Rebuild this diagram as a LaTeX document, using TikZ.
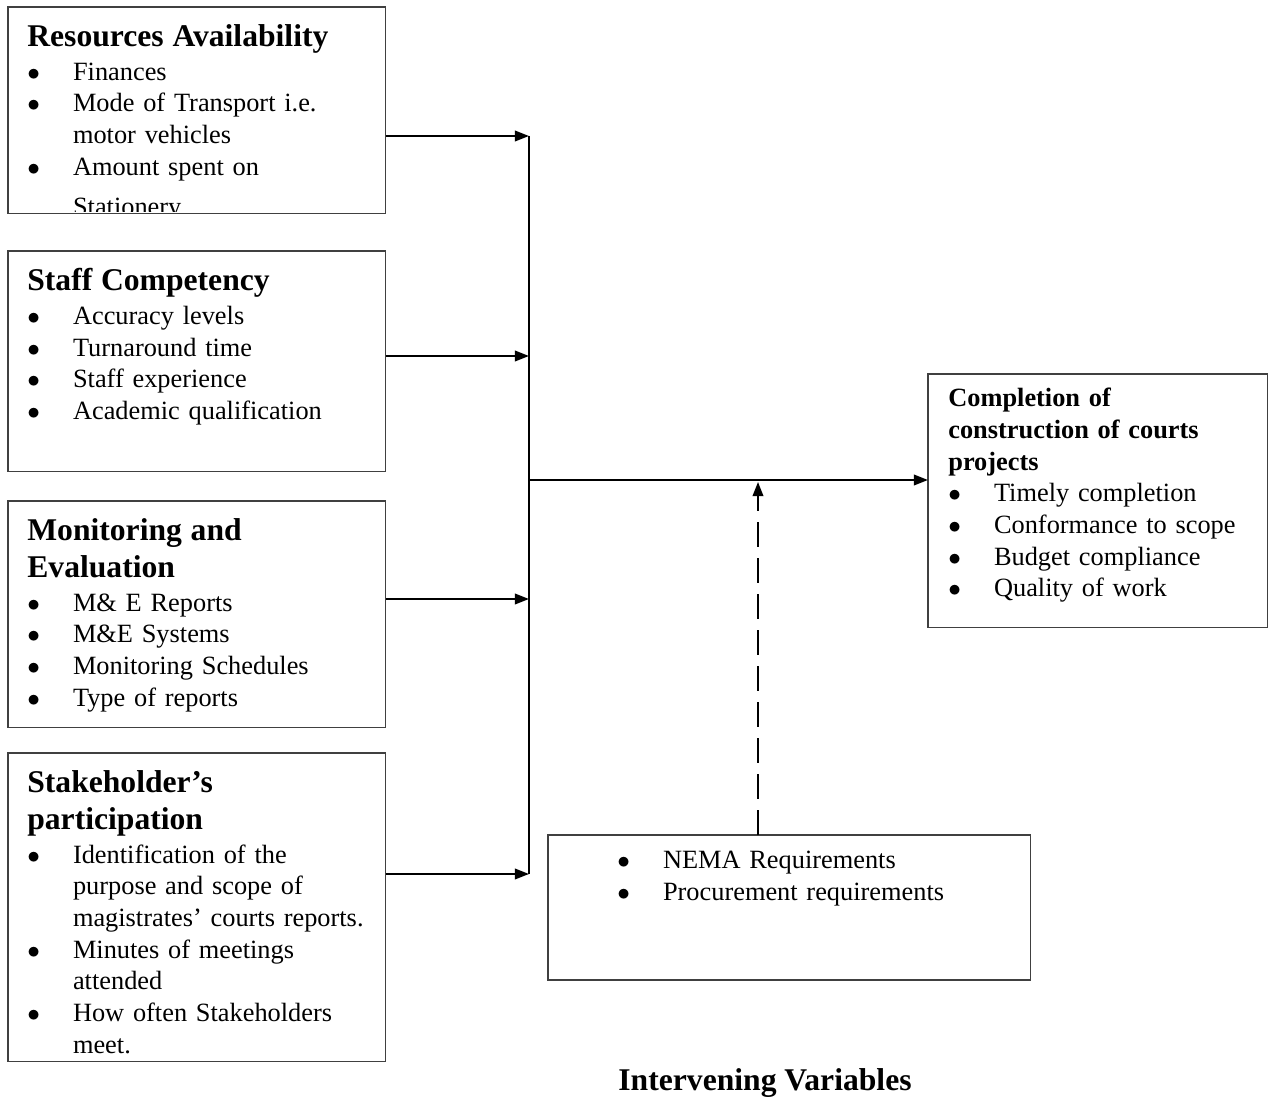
\documentclass[tikz,border=0pt]{standalone}
\usepackage{fontspec}
\setmainfont{Liberation Serif}
\usetikzlibrary{positioning, calc, arrows.meta}
\setlength{\parindent}{0pt}

\newcommand{\bl}{\makebox[26pt][l]{$\bullet$}}
\newcommand{\bc}{\hspace*{26pt}}
\newcommand{\hd}[1]{{\fontsize{18}{21}\selectfont\bfseries #1\par}\vspace{1.4pt}}

\tikzset{
  varbox/.style={draw=black!75, line width=0.6pt, rectangle, anchor=north west, inner sep=0pt, outer sep=0pt},
  vartext/.style={anchor=north west, inner sep=0pt, text width=#1, align=left, font=\fontsize{15}{18}\selectfont},
  link/.style={line width=1.1pt, -{Triangle[length=8pt,width=6pt]}},
}

\begin{document}
\begin{tikzpicture}[x=0.02cm, y=-0.02cm]
        \useasboundingbox (0,0) rectangle (1274,1101);

        % ==========================================
        % LEFT COLUMN: Independent Variables
        % ==========================================
        % Boxes
        \node[varbox, minimum width=7.56cm, minimum height=4.14cm] (res) at (8,7) {};
        \node[varbox, minimum width=7.56cm, minimum height=4.42cm] (staff) at (8,251) {};
        \node[varbox, minimum width=7.56cm, minimum height=4.54cm] (mon) at (8,501) {};
        \node[varbox, minimum width=7.56cm, minimum height=6.18cm] (stake) at (8,753) {};

        % Texts (the first one is cut off near its box's bottom)
        \begin{scope}
            \clip (res.north west) rectangle ($(res.south east)+(0,-2.5)$);
            \node[vartext=7.5cm] (restxt) at (27,24) {%
                \hd{Resources Availability}
                \bl Finances\\
                \bl Mode of Transport i.e.\\
                \bc motor vehicles\\
                \bl Amount spent on\\[4.8pt]
                \bc Stationery};
        \end{scope}
        \node[vartext=7.5cm] (stafftxt) at (27,268) {%
            \hd{Staff Competency}
            \bl Accuracy levels\\
            \bl Turnaround time\\
            \bl Staff experience\\
            \bl Academic qualification};
        \node[vartext=7.5cm] (montxt) at (27,518) {%
            \hd{Monitoring and\\Evaluation}
            \bl M\& E Reports\\
            \bl M\&E Systems\\
            \bl Monitoring Schedules\\
            \bl Type of reports};
        \node[vartext=7.5cm] (staketxt) at (27,770) {%
            \hd{Stakeholder's\\participation}
            \bl Identification of the\\
            \bc purpose and scope of\\
            \bc magistrates' courts reports.\\
            \bl Minutes of meetings\\
            \bc attended\\
            \bl How often Stakeholders\\
            \bc meet.};

        % ==========================================
        % RIGHT: Dependent Variable
        % ==========================================
        \node[varbox, minimum width=6.8cm, minimum height=5.08cm] (out) at (928,374) {};
        \node[vartext=6.4cm] (outtxt) at (948,388) {%
            \textbf{Completion of\\
            construction of courts\\
            projects}\\
            \bl Timely completion\\
            \bl Conformance to scope\\
            \bl Budget compliance\\
            \bl Quality of work};

        % ==========================================
        % BOTTOM: Intervening Variables
        % ==========================================
        \node[varbox, minimum width=9.66cm, minimum height=2.9cm] (int) at (548,835) {};
        \node[vartext=8cm] (inttxt) at (617,851) {%
            \bl NEMA Requirements\\
            \bl Procurement requirements};
        \node[font=\fontsize{18}{21}\selectfont\bfseries] (intlbl) at (765,1083) {Intervening Variables};

        % ==========================================
        % Connectors
        % ==========================================
        \coordinate (b1) at (529,136);
        \coordinate (b2) at (529,356);
        \coordinate (b3) at (529,599);
        \coordinate (b4) at (529,874);
        \coordinate (jn) at (529,480);
        \coordinate (dj) at (758,482);

        \draw[link] (res.east |- b1) -- (b1);
        \draw[link] (staff.east |- b2) -- (b2);
        \draw[link] (mon.east |- b3) -- (b3);
        \draw[link] (stake.east |- b4) -- (b4);
        \draw[line width=1.1pt] (b1) -- (b4);
        \draw[link] (jn) -- (jn -| out.west);
        \draw[link, dash pattern=on 14pt off 6.5pt] (int.north -| dj) -- (dj);

\end{tikzpicture}
\end{document}
